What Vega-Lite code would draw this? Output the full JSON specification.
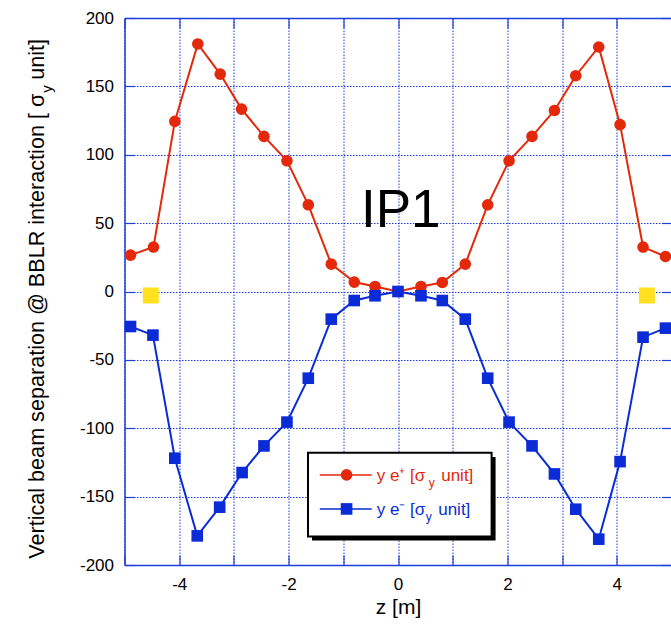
{
  "$schema": "https://vega.github.io/schema/vega-lite/v6.json",
  "width": 547,
  "height": 547,
  "autosize": "none",
  "padding": {"left": 124.5, "top": 18, "right": 0, "bottom": 59},
  "config": {
    "view": {"stroke": null},
    "font": "Liberation Sans",
    "axis": {
      "domainColor": "#1f3fdc",
      "domainWidth": 1.5,
      "tickColor": "#1f3fdc",
      "tickWidth": 1.2,
      "tickSize": -10,
      "gridColor": "#1838e2",
      "gridDash": [1.5, 1.5],
      "gridWidth": 1,
      "labelColor": "#000000",
      "labelFont": "Liberation Sans",
      "labelFontSize": 17,
      "titleFont": "Liberation Sans",
      "titleFontSize": 21,
      "titleFontWeight": "normal",
      "titleColor": "#000000"
    }
  },
  "datasets": {
    "sep": [
      {"z": -4.89, "sep": 26.6, "beam": "e+"},
      {"z": -4.47, "sep": 32.5, "beam": "e+"},
      {"z": -4.08, "sep": 124.4, "beam": "e+"},
      {"z": -3.66, "sep": 181.0, "beam": "e+"},
      {"z": -3.25, "sep": 159.0, "beam": "e+"},
      {"z": -2.86, "sep": 133.4, "beam": "e+"},
      {"z": -2.45, "sep": 113.4, "beam": "e+"},
      {"z": -2.03, "sep": 95.6, "beam": "e+"},
      {"z": -1.64, "sep": 63.4, "beam": "e+"},
      {"z": -1.22, "sep": 20.0, "beam": "e+"},
      {"z": -0.80, "sep": 6.9, "beam": "e+"},
      {"z": -0.42, "sep": 3.7, "beam": "e+"},
      {"z": 0.0, "sep": 0.0, "beam": "e+"},
      {"z": 0.42, "sep": 3.7, "beam": "e+"},
      {"z": 0.81, "sep": 6.6, "beam": "e+"},
      {"z": 1.23, "sep": 20.0, "beam": "e+"},
      {"z": 1.64, "sep": 63.4, "beam": "e+"},
      {"z": 2.03, "sep": 95.6, "beam": "e+"},
      {"z": 2.45, "sep": 113.4, "beam": "e+"},
      {"z": 2.86, "sep": 132.4, "beam": "e+"},
      {"z": 3.25, "sep": 157.8, "beam": "e+"},
      {"z": 3.67, "sep": 178.8, "beam": "e+"},
      {"z": 4.06, "sep": 122.0, "beam": "e+"},
      {"z": 4.48, "sep": 32.5, "beam": "e+"},
      {"z": 4.89, "sep": 25.6, "beam": "e+"},
      {"z": -4.89, "sep": -25.6, "beam": "e-"},
      {"z": -4.48, "sep": -31.9, "beam": "e-"},
      {"z": -4.08, "sep": -121.9, "beam": "e-"},
      {"z": -3.67, "sep": -178.7, "beam": "e-"},
      {"z": -3.26, "sep": -157.7, "beam": "e-"},
      {"z": -2.85, "sep": -132.4, "beam": "e-"},
      {"z": -2.45, "sep": -112.9, "beam": "e-"},
      {"z": -2.03, "sep": -95.5, "beam": "e-"},
      {"z": -1.64, "sep": -63.4, "beam": "e-"},
      {"z": -1.22, "sep": -20.2, "beam": "e-"},
      {"z": -0.80, "sep": -6.6, "beam": "e-"},
      {"z": -0.42, "sep": -3.1, "beam": "e-"},
      {"z": 0.0, "sep": 0.0, "beam": "e-"},
      {"z": 0.42, "sep": -3.1, "beam": "e-"},
      {"z": 0.81, "sep": -6.6, "beam": "e-"},
      {"z": 1.23, "sep": -20.2, "beam": "e-"},
      {"z": 1.64, "sep": -63.4, "beam": "e-"},
      {"z": 2.03, "sep": -95.5, "beam": "e-"},
      {"z": 2.45, "sep": -112.9, "beam": "e-"},
      {"z": 2.86, "sep": -133.4, "beam": "e-"},
      {"z": 3.25, "sep": -159.2, "beam": "e-"},
      {"z": 3.67, "sep": -181.1, "beam": "e-"},
      {"z": 4.06, "sep": -124.4, "beam": "e-"},
      {"z": 4.48, "sep": -33.4, "beam": "e-"},
      {"z": 4.89, "sep": -26.8, "beam": "e-"}
    ],
    "marker": [
      {"z": -4.52, "sep": -2.9},
      {"z": 4.55, "sep": -2.9}
    ]
  },
  "layer": [
    {
      "data": {"name": "sep"},
      "mark": {"type": "line", "strokeWidth": 2},
      "encoding": {
        "x": {"field": "z", "type": "quantitative", "scale": {"domain": [-5, 5], "nice": false},
          "axis": {"orient": "bottom", "values": [-5, -4, -3, -2, -1, 0, 1, 2, 3, 4, 5], "labelExpr": "datum.value % 2 == 0 ? '' + datum.value : ''", "grid": true, "title": "z [m]", "labelPadding": 21, "titlePadding": 4, "labelFlush": false}},
        "y": {"field": "sep", "type": "quantitative", "scale": {"domain": [-200, 200], "nice": false},
          "axis": {"orient": "left", "values": [-200, -150, -100, -50, 0, 50, 100, 150, 200], "labelExpr": "'' + datum.value", "grid": true, "title": null, "labelPadding": 21, "labelFlush": false}},
        "color": {"field": "beam", "type": "nominal", "scale": {"domain": ["e+", "e-"], "range": ["#e3290a", "#0a2bd6"]}, "legend": null}
      }
    },
    {
      "data": {"name": "sep"},
      "mark": {"type": "point", "filled": true, "opacity": 1, "size": 135},
      "encoding": {
        "x": {"field": "z", "type": "quantitative", "scale": {"domain": [-5, 5], "nice": false}, "axis": null},
        "y": {"field": "sep", "type": "quantitative", "scale": {"domain": [-200, 200], "nice": false}, "axis": null},
        "color": {"field": "beam", "type": "nominal", "scale": {"domain": ["e+", "e-"], "range": ["#e3290a", "#0a2bd6"]}, "legend": null},
        "shape": {"field": "beam", "type": "nominal", "scale": {"domain": ["e+", "e-"], "range": ["circle", "square"]}, "legend": null}
      }
    },
    {
      "data": {"name": "marker"},
      "mark": {"type": "square", "filled": true, "opacity": 1, "size": 256, "color": "#ffe11f"},
      "encoding": {
        "x": {"field": "z", "type": "quantitative", "scale": {"domain": [-5, 5], "nice": false},
          "axis": {"orient": "top", "values": [-5, -4, -3, -2, -1, 0, 1, 2, 3, 4, 5], "labels": false, "grid": false, "title": null}},
        "y": {"field": "sep", "type": "quantitative", "scale": {"domain": [-200, 200], "nice": false},
          "axis": {"orient": "right", "values": [-200, -150, -100, -50, 0, 50, 100, 150, 200], "labels": false, "grid": false, "title": null}}
      }
    },
    {
      "data": {"values": [{}]},
      "mark": {"type": "text", "text": "IP1", "fontSize": 53, "align": "center", "baseline": "alphabetic", "color": "#000000", "font": "Liberation Sans"},
      "encoding": {
        "x": {"datum": 0.05, "type": "quantitative", "scale": {"domain": [-5, 5], "nice": false}, "axis": null},
        "y": {"datum": 47.3, "type": "quantitative", "scale": {"domain": [-200, 200], "nice": false}, "axis": null}
      }
    },
    {
      "data": {"values": [{}]},
      "mark": {"type": "rect", "color": "#000000"},
      "encoding": {
        "x": {"datum": -1.572, "type": "quantitative", "scale": {"domain": [-5, 5], "nice": false}, "axis": null},
        "x2": {"datum": 1.784},
        "y": {"datum": -121, "type": "quantitative", "scale": {"domain": [-200, 200], "nice": false}, "axis": null},
        "y2": {"datum": -182.1}
      }
    },
    {
      "data": {"values": [{}]},
      "mark": {"type": "rect", "fill": "#ffffff", "stroke": "#000000", "strokeWidth": 2},
      "encoding": {
        "x": {"datum": -1.645, "type": "quantitative", "scale": {"domain": [-5, 5], "nice": false}, "axis": null},
        "x2": {"datum": 1.711},
        "y": {"datum": -118, "type": "quantitative", "scale": {"domain": [-200, 200], "nice": false}, "axis": null},
        "y2": {"datum": -179.2}
      }
    },
    {
      "data": {"values": [{}]},
      "mark": {"type": "rule", "color": "#e3290a", "strokeWidth": 1.5},
      "encoding": {
        "x": {"datum": -1.43, "type": "quantitative", "scale": {"domain": [-5, 5], "nice": false}, "axis": null},
        "x2": {"datum": -0.48},
        "y": {"datum": -134.1, "type": "quantitative", "scale": {"domain": [-200, 200], "nice": false}, "axis": null}
      }
    },
    {
      "data": {"values": [{}]},
      "mark": {"type": "rule", "color": "#0a2bd6", "strokeWidth": 1.5},
      "encoding": {
        "x": {"datum": -1.43, "type": "quantitative", "scale": {"domain": [-5, 5], "nice": false}, "axis": null},
        "x2": {"datum": -0.48},
        "y": {"datum": -159, "type": "quantitative", "scale": {"domain": [-200, 200], "nice": false}, "axis": null}
      }
    },
    {
      "data": {"values": [{}]},
      "mark": {"type": "point", "shape": "circle", "filled": true, "opacity": 1, "size": 135, "color": "#e3290a"},
      "encoding": {
        "x": {"datum": -0.94, "type": "quantitative", "scale": {"domain": [-5, 5], "nice": false}, "axis": null},
        "y": {"datum": -134.1, "type": "quantitative", "scale": {"domain": [-200, 200], "nice": false}, "axis": null}
      }
    },
    {
      "data": {"values": [{}]},
      "mark": {"type": "point", "shape": "square", "filled": true, "opacity": 1, "size": 135, "color": "#0a2bd6"},
      "encoding": {
        "x": {"datum": -0.94, "type": "quantitative", "scale": {"domain": [-5, 5], "nice": false}, "axis": null},
        "y": {"datum": -159, "type": "quantitative", "scale": {"domain": [-200, 200], "nice": false}, "axis": null}
      }
    },
    {
      "data": {"values": [{}]},
      "mark": {"type": "text", "text": "y e⁺ [σ", "fontSize": 17, "align": "left", "baseline": "alphabetic", "dy": 6, "color": "#e3290a", "font": "Liberation Sans"},
      "encoding": {
        "x": {"datum": -0.39, "type": "quantitative", "scale": {"domain": [-5, 5], "nice": false}, "axis": null},
        "y": {"datum": -134.1, "type": "quantitative", "scale": {"domain": [-200, 200], "nice": false}, "axis": null}
      }
    },
    {
      "data": {"values": [{}]},
      "mark": {"type": "text", "text": "y", "fontSize": 12, "align": "left", "baseline": "alphabetic", "dy": 12, "color": "#e3290a", "font": "Liberation Sans"},
      "encoding": {
        "x": {"datum": 0.563, "type": "quantitative", "scale": {"domain": [-5, 5], "nice": false}, "axis": null},
        "y": {"datum": -134.1, "type": "quantitative", "scale": {"domain": [-200, 200], "nice": false}, "axis": null}
      }
    },
    {
      "data": {"values": [{}]},
      "mark": {"type": "text", "text": "unit]", "fontSize": 17, "align": "left", "baseline": "alphabetic", "dy": 6, "color": "#e3290a", "font": "Liberation Sans"},
      "encoding": {
        "x": {"datum": 0.79, "type": "quantitative", "scale": {"domain": [-5, 5], "nice": false}, "axis": null},
        "y": {"datum": -134.1, "type": "quantitative", "scale": {"domain": [-200, 200], "nice": false}, "axis": null}
      }
    },
    {
      "data": {"values": [{}]},
      "mark": {"type": "text", "text": "y e⁻ [σ", "fontSize": 17, "align": "left", "baseline": "alphabetic", "dy": 6, "color": "#0a2bd6", "font": "Liberation Sans"},
      "encoding": {
        "x": {"datum": -0.39, "type": "quantitative", "scale": {"domain": [-5, 5], "nice": false}, "axis": null},
        "y": {"datum": -159, "type": "quantitative", "scale": {"domain": [-200, 200], "nice": false}, "axis": null}
      }
    },
    {
      "data": {"values": [{}]},
      "mark": {"type": "text", "text": "y", "fontSize": 12, "align": "left", "baseline": "alphabetic", "dy": 12, "color": "#0a2bd6", "font": "Liberation Sans"},
      "encoding": {
        "x": {"datum": 0.508, "type": "quantitative", "scale": {"domain": [-5, 5], "nice": false}, "axis": null},
        "y": {"datum": -159, "type": "quantitative", "scale": {"domain": [-200, 200], "nice": false}, "axis": null}
      }
    },
    {
      "data": {"values": [{}]},
      "mark": {"type": "text", "text": "unit]", "fontSize": 17, "align": "left", "baseline": "alphabetic", "dy": 6, "color": "#0a2bd6", "font": "Liberation Sans"},
      "encoding": {
        "x": {"datum": 0.735, "type": "quantitative", "scale": {"domain": [-5, 5], "nice": false}, "axis": null},
        "y": {"datum": -159, "type": "quantitative", "scale": {"domain": [-200, 200], "nice": false}, "axis": null}
      }
    },
    {
      "data": {"values": [{}]},
      "mark": {"type": "text", "text": "Vertical beam separation  @ BBLR interaction [ σ", "fontSize": 21.6, "angle": 270, "align": "right", "baseline": "alphabetic", "dy": -80.5, "color": "#000000", "font": "Liberation Sans"},
      "encoding": {
        "x": {"datum": -5, "type": "quantitative", "scale": {"domain": [-5, 5], "nice": false}, "axis": null},
        "y": {"datum": 144.6, "type": "quantitative", "scale": {"domain": [-200, 200], "nice": false}, "axis": null}
      }
    },
    {
      "data": {"values": [{}]},
      "mark": {"type": "text", "text": "y", "fontSize": 15, "angle": 270, "align": "left", "baseline": "alphabetic", "dx": 1, "dy": -73, "color": "#000000", "font": "Liberation Sans"},
      "encoding": {
        "x": {"datum": -5, "type": "quantitative", "scale": {"domain": [-5, 5], "nice": false}, "axis": null},
        "y": {"datum": 144.6, "type": "quantitative", "scale": {"domain": [-200, 200], "nice": false}, "axis": null}
      }
    },
    {
      "data": {"values": [{}]},
      "mark": {"type": "text", "text": "unit]", "fontSize": 21.6, "angle": 270, "align": "left", "baseline": "alphabetic", "dx": 14, "dy": -80.5, "color": "#000000", "font": "Liberation Sans"},
      "encoding": {
        "x": {"datum": -5, "type": "quantitative", "scale": {"domain": [-5, 5], "nice": false}, "axis": null},
        "y": {"datum": 144.6, "type": "quantitative", "scale": {"domain": [-200, 200], "nice": false}, "axis": null}
      }
    }
  ],
  "resolve": {"axis": {"x": "independent", "y": "independent"}}
}
